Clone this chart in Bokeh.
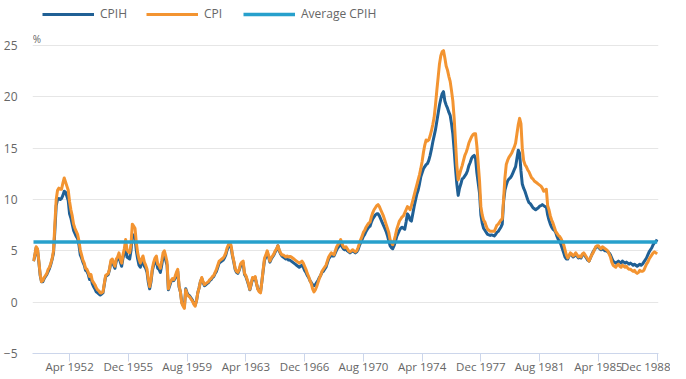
from bokeh.plotting import figure
from bokeh.models import FixedTicker, Legend, LegendItem, Label, Range1d
from bokeh.embed import file_html
from bokeh.resources import INLINE

# ---------------- data (monthly, Jan 1950 .. Dec 1988, % annual rate) ----------------
start_year = 1950

cpih = [
    4.0, 4.5, 5.3, 5.1, 3.9, 2.6, 2.0, 2.0, 2.3, 2.5, 2.7, 3.0,          # 1950
    3.3, 3.7, 4.2, 4.8, 7.0, 9.4, 10.0, 10.1, 10.0, 10.1, 10.4, 10.8,    # 1951
    10.7, 10.3, 9.9, 8.6, 8.2, 7.6, 7.0, 6.7, 6.4, 6.2, 5.6, 4.6,        # 1952
    4.3, 3.9, 3.6, 3.1, 3.0, 2.7, 2.2, 2.4, 1.8, 1.5, 1.3, 1.0,          # 1953
    0.9, 0.8, 0.7, 0.8, 0.9, 1.7, 2.5, 2.6, 2.7, 3.2, 3.9, 4.0,          # 1954
    3.6, 3.3, 4.0, 4.2, 4.5, 3.9, 3.5, 4.3, 4.8, 5.4, 4.4, 4.3,          # 1955
    4.2, 5.0, 6.6, 6.5, 6.3, 5.0, 4.2, 3.6, 3.4, 3.8, 4.1, 3.5,          # 1956
    3.3, 2.9, 1.9, 1.3, 2.0, 3.1, 3.6, 3.9, 4.1, 3.3, 3.2, 2.9,          # 1957
    3.6, 4.4, 4.6, 4.1, 3.6, 1.2, 1.6, 2.0, 2.2, 2.1, 2.3, 2.7,          # 1958
    3.0, 1.5, 1.0, 0.0, -0.3, -0.4, 1.3, 0.9, 0.7, 0.6, 0.4, 0.2,        # 1959
    -0.1, -0.3, 0.1, 0.9, 1.4, 2.0, 2.3, 1.9, 1.6, 1.7, 1.8, 1.9,        # 1960
    2.1, 2.2, 2.4, 2.5, 2.8, 3.0, 3.4, 3.8, 3.9, 4.0, 4.1, 4.3,          # 1961
    4.6, 5.1, 5.4, 5.6, 5.3, 4.5, 3.9, 3.2, 2.9, 2.8, 3.1, 3.5,          # 1962
    3.7, 3.8, 2.7, 2.5, 2.1, 1.7, 1.2, 1.7, 2.3, 2.2, 2.4, 1.8,          # 1963
    1.3, 1.1, 1.0, 2.0, 3.1, 4.1, 4.4, 4.8, 4.4, 3.9, 4.2, 4.4,          # 1964
    4.6, 4.9, 5.1, 5.5, 5.0, 4.7, 4.5, 4.4, 4.3, 4.2, 4.3, 4.1,          # 1965
    4.1, 4.0, 3.9, 3.8, 3.7, 3.6, 3.5, 3.4, 3.5, 3.6, 3.4, 3.1,          # 1966
    2.9, 2.6, 2.4, 2.1, 1.9, 1.7, 1.6, 1.7, 1.9, 2.1, 2.4, 2.6,          # 1967
    2.9, 3.0, 3.2, 3.4, 3.8, 4.2, 4.4, 4.6, 4.5, 4.5, 4.8, 5.1,          # 1968
    5.3, 5.5, 5.7, 5.4, 5.2, 5.1, 5.2, 5.0, 4.9, 4.8, 4.9, 5.0,          # 1969
    4.9, 4.8, 4.9, 5.1, 5.5, 5.8, 6.1, 6.4, 6.6, 6.9, 7.1, 7.3,          # 1970
    7.4, 7.8, 8.1, 8.3, 8.5, 8.6, 8.6, 8.4, 8.1, 7.8, 7.5, 7.2,          # 1971
    6.9, 6.5, 6.0, 5.5, 5.3, 5.2, 5.5, 5.9, 6.4, 6.7, 7.0, 7.2,          # 1972
    7.3, 7.2, 7.1, 7.8, 8.6, 8.4, 8.0, 7.9, 8.6, 9.3, 9.9, 10.5,         # 1973
    10.9, 11.5, 12.2, 12.6, 13.0, 13.2, 13.4, 13.5, 13.8, 14.3, 14.9, 15.6,  # 1974
    16.2, 16.8, 17.6, 18.4, 19.2, 19.8, 20.3, 20.5, 19.6, 19.2, 18.9, 18.5,  # 1975
    18.2, 17.4, 16.4, 14.8, 13.0, 11.5, 10.4, 11.1, 11.5, 12.0, 12.1, 12.3,  # 1976
    12.5, 12.8, 13.3, 13.6, 14.0, 14.2, 14.3, 14.0, 12.6, 11.6, 10.6, 8.5,   # 1977
    7.7, 7.2, 7.0, 6.8, 6.6, 6.55, 6.5, 6.55, 6.5, 6.45, 6.6, 6.8,           # 1978
    6.9, 7.1, 7.3, 7.6, 9.8, 10.9, 11.4, 11.8, 12.0, 12.1, 12.3, 12.6,       # 1979
    12.9, 13.2, 14.0, 14.8, 14.5, 12.8, 11.5, 11.1, 10.8, 10.4, 10.0, 9.7,   # 1980
    9.6, 9.4, 9.2, 9.1, 9.0, 9.1, 9.2, 9.35, 9.4, 9.5, 9.4, 9.3,             # 1981
    9.3, 8.5, 8.0, 7.6, 7.3, 7.1, 7.0, 6.8, 6.4, 6.1, 5.9, 5.6,              # 1982
    5.2, 4.8, 4.4, 4.2, 4.2, 4.5, 4.7, 4.6, 4.4, 4.5, 4.7, 4.5,              # 1983
    4.3, 4.4, 4.3, 4.6, 4.7, 4.5, 4.3, 4.1, 4.0, 4.3, 4.6, 4.9,              # 1984
    5.1, 5.3, 5.4, 5.4, 5.2, 5.1, 5.2, 5.1, 5.0, 5.0, 4.9, 4.8,              # 1985
    4.6, 4.3, 4.0, 3.9, 3.8, 3.9, 4.0, 3.9, 3.8, 4.0, 3.9, 3.8,              # 1986
    3.9, 3.8, 3.7, 3.8, 3.7, 3.6, 3.7, 3.6, 3.5, 3.6, 3.7, 3.6,              # 1987
    3.7, 3.9, 4.1, 4.3, 4.6, 4.9, 5.1, 5.3, 5.6, 5.8, 5.9, 6.1,              # 1988
]

cpi = [
    4.0, 4.6, 5.4, 5.2, 4.0, 2.7, 2.0, 2.1, 2.4, 2.6, 2.8, 3.2,          # 1950
    3.4, 3.8, 4.3, 5.0, 7.6, 10.0, 10.9, 11.1, 11.0, 11.0, 11.6, 12.1,   # 1951
    11.7, 11.3, 10.9, 9.8, 9.0, 8.4, 7.6, 7.2, 6.9, 6.6, 6.0, 5.1,       # 1952
    4.6, 4.1, 3.8, 3.3, 3.2, 2.9, 2.5, 2.7, 2.1, 1.9, 1.7, 1.4,          # 1953
    1.2, 1.1, 0.9, 0.9, 1.0, 1.8, 2.6, 2.7, 2.8, 3.3, 4.1, 4.2,          # 1954
    3.8, 3.5, 4.2, 4.4, 4.8, 4.2, 3.8, 4.6, 5.2, 6.1, 5.1, 4.9,          # 1955
    4.8, 5.6, 7.6, 7.4, 7.2, 5.8, 4.8, 4.2, 3.8, 4.2, 4.5, 3.9,          # 1956
    3.6, 3.2, 2.2, 1.5, 2.2, 3.3, 3.9, 4.3, 4.5, 3.7, 3.6, 3.3,          # 1957
    4.0, 4.8, 5.0, 4.5, 3.9, 1.3, 1.8, 2.1, 2.3, 2.2, 2.5, 2.9,          # 1958
    3.2, 1.6, 1.0, -0.1, -0.4, -0.6, 1.2, 0.8, 0.6, 0.5, 0.3, 0.1,       # 1959
    -0.2, -0.4, 0.1, 0.9, 1.4, 2.0, 2.4, 2.0, 1.7, 1.8, 1.9, 2.0,        # 1960
    2.2, 2.3, 2.5, 2.6, 2.9, 3.2, 3.6, 4.0, 4.1, 4.2, 4.3, 4.5,          # 1961
    4.8, 5.3, 5.6, 5.8, 5.5, 4.6, 4.0, 3.3, 3.0, 2.9, 3.2, 3.7,          # 1962
    3.9, 4.0, 2.8, 2.6, 2.2, 1.8, 1.25, 1.8, 2.4, 2.3, 2.5, 1.8,         # 1963
    1.25, 1.0, 0.9, 2.0, 3.2, 4.3, 4.6, 5.0, 4.6, 4.0, 4.3, 4.5,         # 1964
    4.7, 5.0, 5.2, 5.5, 5.1, 4.8, 4.6, 4.6, 4.5, 4.4, 4.5, 4.4,          # 1965
    4.45, 4.4, 4.3, 4.2, 4.1, 4.0, 3.9, 3.8, 3.9, 4.0, 3.8, 3.5,         # 1966
    3.2, 2.8, 2.5, 2.1, 1.8, 1.3, 1.0, 1.2, 1.5, 1.9, 2.3, 2.6,          # 1967
    3.0, 3.2, 3.4, 3.6, 4.0, 4.4, 4.6, 4.8, 4.7, 4.6, 5.0, 5.4,          # 1968
    5.6, 5.8, 6.1, 5.7, 5.4, 5.3, 5.4, 5.2, 5.0, 4.9, 5.0, 5.1,          # 1969
    5.0, 4.9, 5.0, 5.3, 5.7, 6.1, 6.4, 6.8, 7.0, 7.3, 7.5, 7.7,          # 1970
    7.8, 8.3, 8.7, 9.0, 9.2, 9.4, 9.5, 9.3, 9.0, 8.7, 8.4, 8.0,          # 1971
    7.6, 7.2, 6.8, 6.1, 5.8, 5.6, 6.0, 6.5, 7.1, 7.5, 7.9, 8.1,          # 1972
    8.3, 8.4, 8.7, 9.0, 9.3, 9.2, 9.0, 9.4, 9.9, 10.4, 10.9, 11.4,       # 1973
    11.9, 12.4, 13.0, 13.7, 14.6, 15.3, 15.8, 15.7, 15.8, 16.2, 16.7, 17.3,  # 1974
    18.0, 19.2, 20.6, 21.9, 23.2, 24.0, 24.4, 24.5, 23.8, 23.0, 22.6, 22.0,  # 1975
    21.5, 20.6, 19.6, 17.9, 15.6, 13.3, 11.9, 12.4, 12.9, 13.3, 13.8, 14.3,  # 1976
    14.6, 15.0, 15.5, 15.8, 16.1, 16.3, 16.4, 16.4, 15.2, 13.5, 11.8, 9.3,   # 1977
    8.5, 8.0, 7.8, 7.4, 7.1, 7.0, 6.9, 6.9, 6.9, 6.9, 7.2, 7.5,              # 1978
    7.6, 7.8, 8.0, 8.1, 10.0, 12.1, 13.4, 13.8, 14.1, 14.3, 14.5, 14.8,      # 1979
    15.1, 15.5, 16.4, 17.3, 17.9, 17.4, 15.0, 13.8, 13.4, 13.2, 12.9, 12.7,  # 1980
    12.4, 12.1, 12.0, 11.8, 11.7, 11.6, 11.5, 11.4, 11.3, 11.1, 10.8, 10.9,  # 1981
    11.0, 9.4, 9.0, 8.4, 8.0, 7.7, 7.3, 6.9, 6.7, 6.5, 6.4, 6.2,             # 1982
    5.9, 5.6, 5.1, 4.6, 4.3, 4.5, 4.8, 4.7, 4.5, 4.6, 4.8, 4.6,              # 1983
    4.4, 4.5, 4.4, 4.7, 4.8, 4.6, 4.4, 4.2, 4.0, 4.3, 4.6, 4.8,              # 1984
    5.1, 5.4, 5.5, 5.5, 5.3, 5.2, 5.4, 5.3, 5.2, 5.1, 5.0, 4.7,              # 1985
    4.4, 3.9, 3.6, 3.5, 3.4, 3.6, 3.7, 3.5, 3.4, 3.6, 3.5, 3.4,              # 1986
    3.5, 3.3, 3.2, 3.2, 3.1, 3.0, 3.1, 2.9, 2.8, 2.9, 3.1, 3.0,              # 1987
    3.0, 3.1, 3.4, 3.7, 3.9, 4.2, 4.4, 4.6, 4.8, 4.9, 4.8, 4.7,              # 1988
]

avg_cpih = 5.86

tick_labels = ["Apr 1952", "Dec 1955", "Aug 1959", "Apr 1963", "Dec 1966", "Aug 1970",
               "Apr 1974", "Dec 1977", "Aug 1981", "Apr 1985", "Dec 1988"]
y_ticks = [-5, 0, 5, 10, 15, 20, 25]

series_names = ["CPIH", "CPI", "Average CPIH"]
series_colors = ["#206095", "#f39431", "#27a0cc"]

# ---------------- helpers ----------------
MONTHS = ["Jan", "Feb", "Mar", "Apr", "May", "Jun", "Jul", "Aug", "Sep", "Oct", "Nov", "Dec"]


def month_index(label):
    mon, yr = label.split()
    return (int(yr) - start_year) * 12 + MONTHS.index(mon)


n = len(cpi)
x = list(range(n))
tick_pos = [month_index(t) for t in tick_labels]

FONT = "Open Sans"
TEXT_COLOR = "#666666"

p = figure(width=670, height=377, output_backend="svg", toolbar_location=None,
           x_range=Range1d(-0.75, 468.0), y_range=Range1d(-5, 29.38),
           min_border_left=24, min_border_right=12, min_border_top=0, min_border_bottom=24)
p.outline_line_color = None
p.background_fill_color = "white"
p.border_fill_color = "white"

# x axis
p.xaxis.ticker = FixedTicker(ticks=tick_pos)
p.xaxis.major_label_overrides = {pos: lbl for pos, lbl in zip(tick_pos, tick_labels)}
p.xaxis.axis_line_color = "#ccd6eb"
p.xaxis.axis_line_width = 1
p.xaxis.major_tick_line_color = "#ccd6eb"
p.xaxis.major_tick_out = 8
p.xaxis.major_tick_in = 0
p.xaxis.minor_tick_line_color = None
p.xaxis.major_label_text_font = FONT
p.xaxis.major_label_text_font_size = "11.5px"
p.xaxis.major_label_text_color = TEXT_COLOR
p.xaxis.major_label_standoff = -3

# y axis
p.yaxis.ticker = FixedTicker(ticks=y_ticks)
p.yaxis.axis_line_color = None
p.yaxis.major_tick_line_color = None
p.yaxis.minor_tick_line_color = None
p.yaxis.major_label_text_font = FONT
p.yaxis.major_label_text_font_size = "12px"
p.yaxis.major_label_text_color = TEXT_COLOR
p.yaxis.major_label_standoff = 9

p.xgrid.visible = False
p.ygrid.ticker = FixedTicker(ticks=[t for t in y_ticks if t > y_ticks[0]])
p.ygrid.grid_line_color = "#e6e6e6"
p.ygrid.grid_line_width = 1

# series
r_cpih = p.line(x, cpih, line_color=series_colors[0], line_width=3, line_join="round")
r_cpi = p.line(x, cpi, line_color=series_colors[1], line_width=3, line_join="round")
r_avg = p.line([x[0], x[-1]], [avg_cpih, avg_cpih], line_color=series_colors[2], line_width=3.5)

legend = Legend(items=[LegendItem(label=series_names[0], renderers=[r_cpih]),
                       LegendItem(label=series_names[1], renderers=[r_cpi]),
                       LegendItem(label=series_names[2], renderers=[r_avg])],
                orientation="horizontal", location=(10, 331))
legend.glyph_width = 52
legend.glyph_height = 14
legend.label_height = 14
legend.label_standoff = 6
legend.spacing = 19
legend.padding = 0
legend.margin = 0
legend.border_line_color = None
legend.background_fill_alpha = 0
legend.label_text_font = FONT
legend.label_text_font_size = "12px"
legend.label_text_color = TEXT_COLOR
p.add_layout(legend)

p.add_layout(Label(x=-0.5, y=25.63, text="%", text_font=FONT, text_font_size="10px",
                   text_color=TEXT_COLOR, text_baseline="middle", text_align="left"))

open("out.html", "w").write(file_html(p, INLINE))
